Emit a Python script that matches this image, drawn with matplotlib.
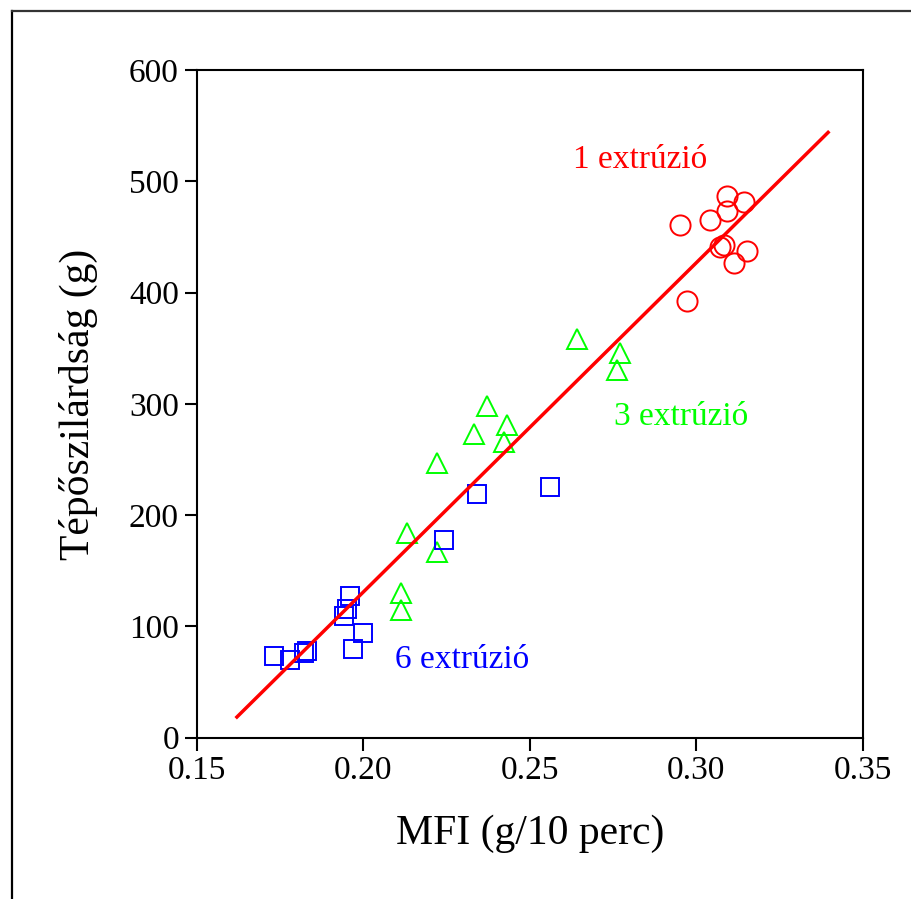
import matplotlib.pyplot as plt
from matplotlib.lines import Line2D
import numpy as np

plt.rcParams['font.family'] = ['Liberation Serif', 'DejaVu Serif']

# 1 extrusion (red circles)
mfi_1 = [0.3092, 0.3142, 0.3092, 0.2952, 0.3042, 0.3072, 0.3082, 0.3112, 0.3152, 0.2972]
tear_1 = [487, 481, 473, 461, 465, 441, 443, 427, 437, 392]

# 3 extrusions (green triangles)
mfi_3 = [0.2642, 0.2772, 0.2762, 0.2372, 0.2432, 0.2332, 0.2422, 0.2222,
         0.2132, 0.2222, 0.2112, 0.2112]
tear_3 = [358, 346, 330, 298, 281, 273, 266, 247, 184, 167, 130, 115]

# 6 extrusions (blue squares)
mfi_6 = [0.2342, 0.2562, 0.2242, 0.1730, 0.1780, 0.1830, 0.1822, 0.1970,
         0.2000, 0.1942, 0.1950, 0.1960]
tear_6 = [219, 225, 178, 73, 70, 78, 76, 80, 94, 109, 116, 127]

# fitted line
fit_slope = 2958.0
fit_intercept = -460.6
fit_x = [0.162, 0.3396]

fig = plt.figure(figsize=(9.11, 8.99), dpi=100)
ax = fig.add_axes([0.2162, 0.1794, 0.7308, 0.7427])

ax.plot(mfi_1, tear_1, 'o', ms=14.5, mfc='none', mec='#ff0000', mew=1.4, zorder=3)
ax.plot(mfi_3, tear_3, '^', ms=15, mfc='none', mec='#00ff00', mew=1.4, zorder=3)
ax.plot(mfi_6, tear_6, 's', ms=13, mfc='none', mec='#0000ff', mew=1.4, zorder=3)

fx = np.array(fit_x)
ax.plot(fx, fit_slope * fx + fit_intercept, color='#ff0000', lw=2.5, zorder=4)

ax.text(0.2832, 519, '1 extrúzió', color='#ff0000', fontsize=24, ha='center', va='center')
ax.text(0.2955, 288, '3 extrúzió', color='#00ff00', fontsize=24, ha='center', va='center')
ax.text(0.2298, 70, '6 extrúzió', color='#0000ff', fontsize=24, ha='center', va='center')

ax.set_xlim(0.15, 0.35)
ax.set_ylim(0, 600)
ax.set_xticks([0.15, 0.20, 0.25, 0.30, 0.35])
ax.set_xticklabels(['0.15', '0.20', '0.25', '0.30', '0.35'])
ax.set_yticks([0, 100, 200, 300, 400, 500, 600])
ax.tick_params(direction='out', length=9, width=1.5, labelsize=24, pad=4)
for sp in ax.spines.values():
    sp.set_linewidth(1.5)

ax.set_xlabel('MFI (g/10 perc)', fontsize=30, labelpad=20)
ax.set_ylabel('Tépőszilárdság (g)', fontsize=30, labelpad=22)

# outer frame lines
fig.add_artist(Line2D([0.0132, 0.0132], [0, 0.9878], color='black', lw=1.6,
                      transform=fig.transFigure))
fig.add_artist(Line2D([0.0132, 1.0], [0.9878, 0.9878], color='#333333', lw=1.6,
                      transform=fig.transFigure))

fig.savefig('out.png', dpi=100)
